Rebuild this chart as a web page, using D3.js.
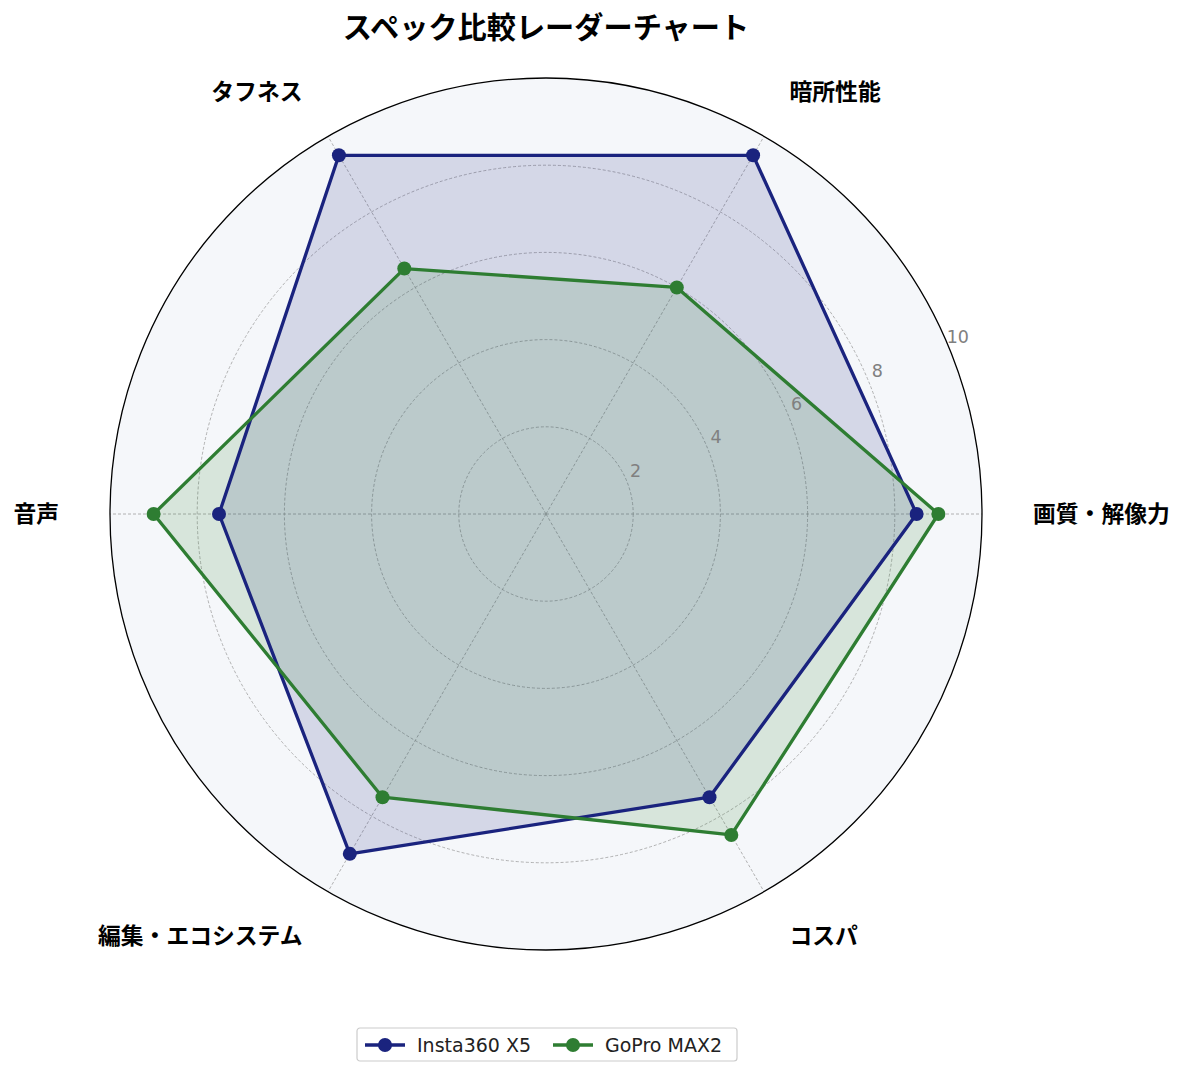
<!DOCTYPE html>
<html>
<head>
<meta charset="utf-8">
<script src="https://cdn.jsdelivr.net/npm/d3@7"></script>
<style>
  body { margin: 0; background: #fff; }
  text { font-family: "Noto Sans CJK JP", "Noto Sans", sans-serif; }
  .latin { font-family: "DejaVu Sans", "Noto Sans", sans-serif; }
</style>
</head>
<body>
<script>
// axes and scores
var axes = ["画質・解像力", "暗所性能", "タフネス", "音声", "編集・エコシステム", "コスパ"];
var seriesNames = ["Insta360 X5", "GoPro MAX2"];
var insta = [8.5, 9.5, 9.5, 7.5, 9.0, 7.5];
var gopro = [9.0, 6.0, 6.5, 9.0, 7.5, 8.5];
var ringTicks = [2, 4, 6, 8, 10];
var colors = ["#1a237e", "#2e7d32"];

var width = 1185, height = 1077;
var cx = 546, cy = 514, R = 436;

var svg = d3.select("body")
    .append("svg")
    .attr("width", width)
    .attr("height", height);

var r = d3.scaleLinear().domain([0, 10]).range([0, R]);

// angle: first axis to the right, going counter-clockwise
var angle = d3.scaleLinear().domain([0, axes.length]).range([0, 2 * Math.PI]);

function px(i, v) { return cx + r(v) * Math.cos(angle(i)); }
function py(i, v) { return cy - r(v) * Math.sin(angle(i)); }

// background disc
svg.append("circle")
    .attr("cx", cx).attr("cy", cy).attr("r", R)
    .attr("fill", "#f5f7fa");

// grid rings
svg.selectAll(".ring")
    .data(ringTicks.filter(d => d < 10))
    .enter()
    .append("circle")
    .attr("class", "ring")
    .attr("cx", cx).attr("cy", cy)
    .attr("r", d => r(d))
    .attr("fill", "none")
    .attr("stroke", "#a0a0a0")
    .attr("stroke-width", 0.8)
    .attr("stroke-dasharray", "3,2");

// spokes
svg.selectAll(".spoke")
    .data(axes)
    .enter()
    .append("line")
    .attr("class", "spoke")
    .attr("x1", cx)
    .attr("y1", cy)
    .attr("x2", (d, i) => px(i, 10))
    .attr("y2", (d, i) => py(i, 10))
    .attr("stroke", "#a0a0a0")
    .attr("stroke-width", 0.8)
    .attr("stroke-dasharray", "3,2");

// series
var allData = [insta, gopro];
var line = d3.lineRadial()
    .angle((d, i) => Math.PI / 2 - angle(i))
    .radius(d => r(d))
    .curve(d3.curveLinearClosed);

var g = svg.append("g").attr("transform", "translate(" + cx + "," + cy + ")");

allData.forEach(function(vals, k) {
    g.append("path")
        .attr("d", line(vals))
        .attr("fill", colors[k])
        .attr("fill-opacity", 0.15)
        .attr("stroke", "none");
});
allData.forEach(function(vals, k) {
    g.append("path")
        .attr("d", line(vals))
        .attr("fill", "none")
        .attr("stroke", colors[k])
        .attr("stroke-width", 3.3)
        .attr("stroke-linejoin", "round");
    g.selectAll(".pt" + k)
        .data(vals)
        .enter()
        .append("circle")
        .attr("cx", (d, i) => r(d) * Math.cos(angle(i)))
        .attr("cy", (d, i) => -r(d) * Math.sin(angle(i)))
        .attr("r", 7)
        .attr("fill", colors[k]);
});

// outer frame
svg.append("circle")
    .attr("cx", cx).attr("cy", cy).attr("r", R)
    .attr("fill", "none")
    .attr("stroke", "#000")
    .attr("stroke-width", 1.3);

// radial tick labels at 22.5 deg
var tickAng = 22.5 * Math.PI / 180;
svg.selectAll(".rtick")
    .data(ringTicks)
    .enter()
    .append("text")
    .attr("class", "rtick latin")
    .attr("x", d => cx + r(d) * Math.cos(tickAng) + 9)
    .attr("y", d => cy - r(d) * Math.sin(tickAng) - 10)
    .attr("dy", "0.35em")
    .attr("text-anchor", "middle")
    .attr("font-size", 17.5)
    .attr("fill", "#808080")
    .text(d => d);

// axis labels
var labR = 487;
svg.selectAll(".axlab")
    .data(axes)
    .enter()
    .append("text")
    .attr("class", "axlab")
    .attr("x", (d, i) => cx + labR * Math.cos(angle(i)))
    .attr("y", (d, i) => cy - labR * Math.sin(angle(i)))
    .attr("dy", "0.35em")
    .attr("text-anchor", (d, i) => Math.cos(angle(i)) > 0.01 ? "start" : (Math.cos(angle(i)) < -0.01 ? "end" : "middle"))
    .attr("font-size", 22.8)
    .attr("font-weight", "bold")
    .attr("fill", "#000")
    .text(d => d);

// title
svg.append("text")
    .attr("x", cx)
    .attr("y", 28)
    .attr("dy", "0.35em")
    .attr("text-anchor", "middle")
    .attr("font-size", 29.2)
    .attr("font-weight", "bold")
    .text("スペック比較レーダーチャート");

// legend
var leg = svg.append("g").attr("transform", "translate(357,1028)");
leg.append("rect")
    .attr("width", 380).attr("height", 33)
    .attr("rx", 3)
    .attr("fill", "#fff")
    .attr("stroke", "#cccccc")
    .attr("stroke-width", 1.2);

var legX = [8, 196];
seriesNames.forEach(function(name, k) {
    var item = leg.append("g").attr("transform", "translate(" + legX[k] + ",17)");
    item.append("line")
        .attr("x1", 0).attr("x2", 40)
        .attr("stroke", colors[k]).attr("stroke-width", 3.3);
    item.append("circle")
        .attr("cx", 20).attr("r", 7).attr("fill", colors[k]);
    item.append("text")
        .attr("class", "latin")
        .attr("x", 52)
        .attr("dy", "0.35em")
        .attr("font-size", 19)
        .attr("fill", "#222")
        .text(name);
});
</script>
</body>
</html>
